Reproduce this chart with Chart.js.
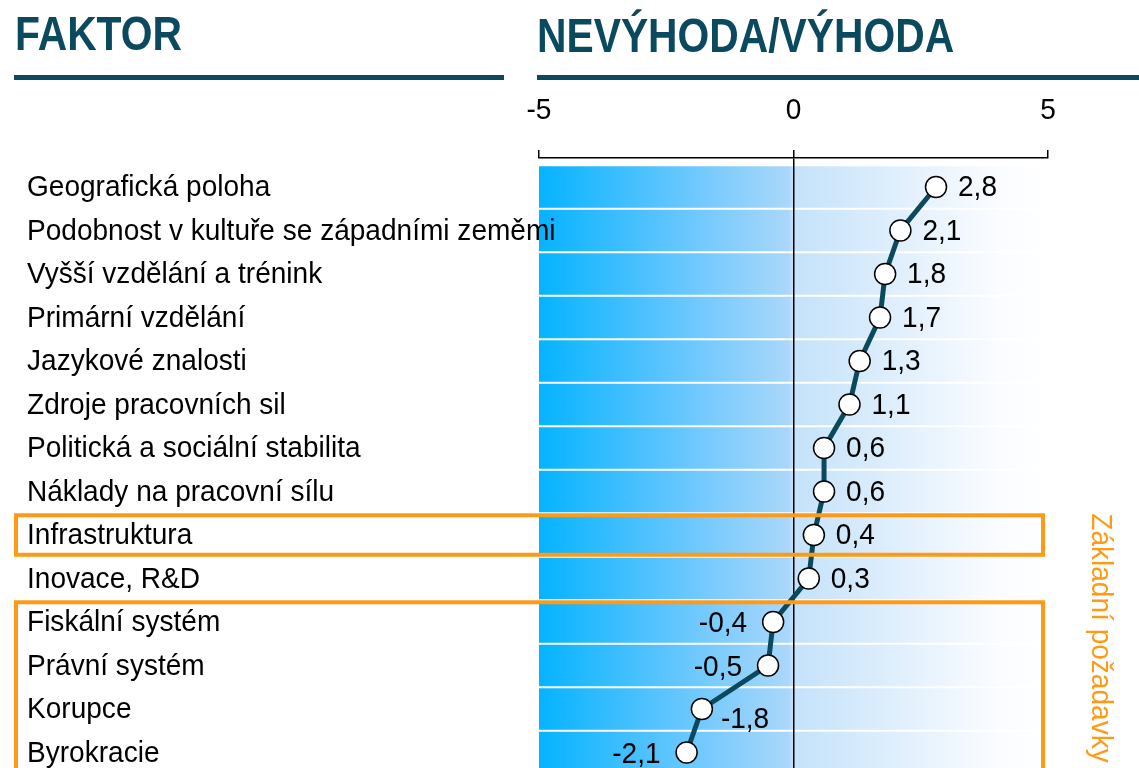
<!DOCTYPE html>
<html>
<head>
<meta charset="utf-8">
<script src="https://cdn.jsdelivr.net/npm/chart.js@4"></script>
<style>
  body { margin: 0; background: #fff; overflow: hidden; }
  #wrap { width: 1139px; height: 768px; }
</style>
</head>
<body>
<div id="wrap"><canvas id="factorChart" width="1139" height="768"></canvas></div>
<script>
  // factors and their score (nevýhoda/výhoda)
  const factors = [
    'Geografická poloha',
    'Podobnost v kultuře se západními zeměmi',
    'Vyšší vzdělání a trénink',
    'Primární vzdělání',
    'Jazykové znalosti',
    'Zdroje pracovních sil',
    'Politická a sociální stabilita',
    'Náklady na pracovní sílu',
    'Infrastruktura',
    'Inovace, R&D',
    'Fiskální systém',
    'Právní systém',
    'Korupce',
    'Byrokracie'
  ];
  const scores = [2.8, 2.1, 1.8, 1.7, 1.3, 1.1, 0.6, 0.6, 0.4, 0.3, -0.4, -0.5, -1.8, -2.1];
  const axisTicks = [-5, 0, 5];
  // rows that are "Základní požadavky" (first..last)
  const boxedGroups = [[8, 8], [10, 13]];
  const labelBelowRight = [12];

  const teal = '#0b4a5e';
  const orange = '#ff9a17';
  const font = "'Liberation Sans', Arial, sans-serif";

  const fmt = v => v.toFixed(1).replace('.', ',');

  // text is a bit condensed in the original, so squeeze it horizontally
  function drawText(ctx, txt, x, y, opts) {
    const o = Object.assign({ size: 30, bold: false, align: 'left', squeeze: 0.935, color: '#000', baseline: 'middle' }, opts);
    ctx.save();
    ctx.translate(x, y);
    ctx.scale(o.squeeze, 1);
    ctx.font = (o.bold ? 'bold ' : '') + o.size + 'px ' + font;
    ctx.fillStyle = o.color;
    ctx.textAlign = o.align;
    ctx.textBaseline = o.baseline;
    ctx.fillText(txt, 0, 0);
    ctx.restore();
  }

  const decorPlugin = {
    id: 'decor',
    beforeDraw(chart) {
      const { ctx, chartArea, scales } = chart;
      const y = scales.y;
      const grad = ctx.createLinearGradient(chartArea.left, 0, chartArea.right, 0);
      grad.addColorStop(0, '#05b3ff');
      grad.addColorStop(0.25, '#5cc4fe');
      grad.addColorStop(0.49, '#aad7fa');
      grad.addColorStop(0.5, '#c4e2fa');
      grad.addColorStop(0.75, '#e6f2fd');
      grad.addColorStop(0.9, '#fafcff');
      grad.addColorStop(1, '#ffffff');
      ctx.save();
      ctx.fillStyle = grad;
      factors.forEach((f, i) => {
        const top = y.getPixelForValue(i - 0.5) + 1;
        const bot = y.getPixelForValue(i + 0.5) - 1;
        ctx.fillRect(chartArea.left, top, chartArea.right - chartArea.left, bot - top);
      });
      ctx.restore();
    },
    afterDatasetsDraw(chart) {
      const { ctx } = chart;
      const meta = chart.getDatasetMeta(0);
      meta.data.forEach((pt, i) => {
        const v = scores[i];
        if (labelBelowRight.includes(i)) {
          drawText(ctx, fmt(v), pt.x + 19, pt.y + 11, {});
        } else if (v < 0) {
          drawText(ctx, fmt(v), pt.x - 26, pt.y + 2, { align: 'right' });
        } else {
          drawText(ctx, fmt(v), pt.x + 22, pt.y + 1, {});
        }
      });
    },
    afterDraw(chart) {
      const { ctx, chartArea, scales } = chart;
      const x = scales.x;
      const y = scales.y;

      // headers
      drawText(ctx, 'FAKTOR', 15, 50, { size: 48, bold: true, squeeze: 0.85, color: teal, baseline: 'alphabetic' });
      drawText(ctx, 'NEVÝHODA/VÝHODA', 537, 52, { size: 48, bold: true, squeeze: 0.85, color: teal, baseline: 'alphabetic' });
      ctx.save();
      ctx.fillStyle = teal;
      ctx.fillRect(14, 75, 490, 5);
      ctx.fillRect(537, 75, 602, 5);
      ctx.restore();

      // axis tick labels
      axisTicks.forEach(v => {
        drawText(ctx, String(v), x.getPixelForValue(v), 111, { align: 'center' });
      });

      // factor names
      factors.forEach((f, i) => {
        drawText(ctx, f, 27, y.getPixelForValue(i) + 1, {});
      });

      // orange boxes
      ctx.save();
      ctx.strokeStyle = orange;
      ctx.lineWidth = 4;
      boxedGroups.forEach(([a, b]) => {
        const top = y.getPixelForValue(a - 0.5) + 2;
        const bot = y.getPixelForValue(b + 0.5) - 2;
        ctx.strokeRect(16, top, chartArea.right - 5 - 16, bot - top);
      });

      // side label
      ctx.translate(1100, y.getPixelForValue(8 - 0.5));
      ctx.rotate(Math.PI / 2);
      drawText(ctx, 'Základní požadavky', 0, 0, { color: orange });
      ctx.restore();
    }
  };

  const ctx = document.getElementById('factorChart').getContext('2d');
  new Chart(ctx, {
    type: 'scatter',
    data: {
      datasets: [{
        data: scores.map((v, i) => ({ x: v, y: i })),
        showLine: true,
        borderColor: teal,
        borderWidth: 5,
        pointRadius: 10.5,
        pointHoverRadius: 10.5,
        pointBackgroundColor: '#fff',
        pointBorderColor: '#000',
        pointBorderWidth: 1.5
      }]
    },
    options: {
      responsive: false,
      animation: false,
      layout: { autoPadding: false, padding: { left: 539, right: 91, top: 0, bottom: 0 } },
      plugins: { legend: { display: false }, tooltip: { enabled: false } },
      scales: {
        x: {
          type: 'linear',
          position: 'top',
          min: -5,
          max: 5,
          afterFit(scale) { scale.height = 158; },
          afterBuildTicks(scale) { scale.ticks = axisTicks.map(v => ({ value: v })); },
          ticks: { display: false },
          border: { display: true, color: '#000', width: 1.5 },
          grid: {
            drawOnChartArea: true,
            tickLength: 8,
            tickColor: '#000',
            lineWidth: 1.5,
            color: c => (c.tick && c.tick.value === 0 ? '#000' : 'rgba(0,0,0,0)')
          }
        },
        y: {
          type: 'linear',
          display: false,
          reverse: true,
          min: -0.667,
          max: 13.356
        }
      }
    },
    plugins: [decorPlugin]
  });
</script>
</body>
</html>
